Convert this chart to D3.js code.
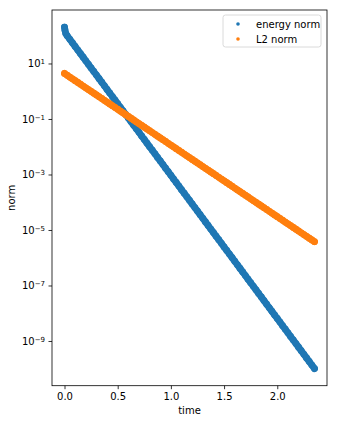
<!DOCTYPE html>
<html lang="en">
<head>
<meta charset="utf-8">
<title>norm vs time</title>
<script src="https://d3js.org/d3.v7.min.js"></script>
<style>
  body { margin: 0; background: #fff; }
  text { font-family: "DejaVu Sans", sans-serif; font-size: 10px; fill: #000; }
</style>
</head>
<body>
<script>
// sample times (shared)
var time = [0, 0.025, 0.05, 0.075, 0.1, 0.125, 0.15, 0.175, 0.2, 0.225, 0.25, 0.275, 0.3, 0.325, 0.35, 0.375,
  0.4, 0.425, 0.45, 0.475, 0.5, 0.525, 0.55, 0.575, 0.6, 0.625, 0.65, 0.675, 0.7, 0.725, 0.75, 0.775,
  0.8, 0.825, 0.85, 0.875, 0.9, 0.925, 0.95, 0.975, 1.0, 1.025, 1.05, 1.075, 1.1, 1.125, 1.15, 1.175,
  1.2, 1.225, 1.25, 1.275, 1.3, 1.325, 1.35, 1.375, 1.4, 1.425, 1.45, 1.475, 1.5, 1.525, 1.55, 1.575,
  1.6, 1.625, 1.65, 1.675, 1.7, 1.725, 1.75, 1.775, 1.8, 1.825, 1.85, 1.875, 1.9, 1.925, 1.95, 1.975,
  2.0, 2.025, 2.05, 2.075, 2.1, 2.125, 2.15, 2.175, 2.2, 2.225, 2.25, 2.275, 2.3, 2.325, 2.35];

// energy norm has a couple of extra points at the very start (small hook)
var energyTime = [0, 0.004, 0.012].concat(time.slice(1));
var energyNorm = [2.05e2, 1.62e2, 1.20e2,
  1.00e2, 7.45e1, 5.53e1, 4.11e1, 3.05e1, 2.27e1, 1.69e1, 1.25e1, 9.31, 6.92, 5.14, 3.82, 2.84, 2.11, 1.57, 1.16,
  8.65e-1, 6.43e-1, 4.78e-1, 3.55e-1, 2.64e-1, 1.96e-1, 1.46e-1, 1.08e-1,
  8.04e-2, 5.97e-2, 4.44e-2, 3.30e-2, 2.45e-2, 1.82e-2, 1.35e-2, 1.00e-2,
  7.46e-3, 5.55e-3, 4.12e-3, 3.06e-3, 2.28e-3, 1.69e-3, 1.26e-3,
  9.33e-4, 6.93e-4, 5.15e-4, 3.83e-4, 2.84e-4, 2.11e-4, 1.57e-4, 1.17e-4,
  8.67e-5, 6.44e-5, 4.79e-5, 3.56e-5, 2.64e-5, 1.96e-5, 1.46e-5, 1.08e-5,
  8.05e-6, 5.98e-6, 4.45e-6, 3.30e-6, 2.45e-6, 1.82e-6, 1.36e-6, 1.01e-6,
  7.48e-7, 5.56e-7, 4.13e-7, 3.07e-7, 2.28e-7, 1.69e-7, 1.26e-7,
  9.35e-8, 6.95e-8, 5.16e-8, 3.84e-8, 2.85e-8, 2.12e-8, 1.57e-8, 1.17e-8,
  8.69e-9, 6.46e-9, 4.80e-9, 3.56e-9, 2.65e-9, 1.97e-9, 1.46e-9, 1.09e-9,
  8.07e-10, 6.00e-10, 4.46e-10, 3.31e-10, 2.46e-10, 1.83e-10, 1.36e-10, 1.01e-10];

var l2Norm = [4.37, 3.76, 3.24, 2.80, 2.41, 2.08, 1.79, 1.54, 1.33, 1.15,
  9.89e-1, 8.52e-1, 7.35e-1, 6.33e-1, 5.46e-1, 4.71e-1, 4.06e-1, 3.50e-1, 3.01e-1, 2.60e-1,
  2.24e-1, 1.93e-1, 1.66e-1, 1.43e-1, 1.24e-1, 1.07e-1,
  9.18e-2, 7.91e-2, 6.82e-2, 5.88e-2, 5.07e-2, 4.37e-2, 3.77e-2, 3.25e-2, 2.80e-2, 2.41e-2,
  2.08e-2, 1.79e-2, 1.55e-2, 1.33e-2, 1.15e-2,
  9.90e-3, 8.53e-3, 7.35e-3, 6.34e-3, 5.46e-3, 4.71e-3, 4.06e-3, 3.50e-3, 3.02e-3, 2.60e-3,
  2.24e-3, 1.93e-3, 1.67e-3, 1.44e-3, 1.24e-3, 1.07e-3,
  9.19e-4, 7.93e-4, 6.83e-4, 5.89e-4, 5.08e-4, 4.38e-4, 3.77e-4, 3.25e-4, 2.80e-4, 2.42e-4,
  2.08e-4, 1.79e-4, 1.55e-4, 1.33e-4, 1.15e-4,
  9.91e-5, 8.54e-5, 7.36e-5, 6.35e-5, 5.47e-5, 4.72e-5, 4.06e-5, 3.50e-5, 3.02e-5, 2.60e-5,
  2.24e-5, 1.93e-5, 1.67e-5, 1.44e-5, 1.24e-5, 1.07e-5,
  9.20e-6, 7.93e-6, 6.84e-6, 5.89e-6, 5.08e-6, 4.38e-6, 3.78e-6];

var xTicks = [0, 0.5, 1.0, 1.5, 2.0];
var yTickExps = [1, -1, -3, -5, -7, -9];
var seriesNames = ["energy norm", "L2 norm"];
var seriesColors = ["#1f77b4", "#ff7f0e"];

var w = 337, h = 423;
var margin = {left: 52, top: 10, right: 10, bottom: 37.3};
var r = 3.4;

var svg = d3.select("body").append("svg")
    .attr("width", w)
    .attr("height", h);

// domains padded 5% like matplotlib (log space for y)
var tMax = d3.max(energyTime);
var xPad = tMax * 0.05;
var x = d3.scaleLinear()
    .domain([-xPad, tMax + xPad])
    .range([margin.left, w - margin.right]);

var allVals = energyNorm.concat(l2Norm);
var lmin = Math.log10(d3.min(allVals)), lmax = Math.log10(d3.max(allVals));
var lpad = (lmax - lmin) * 0.05;
var y = d3.scaleLog()
    .domain([Math.pow(10, lmin - lpad), Math.pow(10, lmax + lpad)])
    .range([h - margin.bottom, margin.top]);

var series = [
  energyTime.map(function(t, i) { return [t, energyNorm[i]]; }),
  time.map(function(t, i) { return [t, l2Norm[i]]; })
];

var trail = d3.line()
    .x(function(d) { return x(d[0]); })
    .y(function(d) { return y(d[1]); });

series.forEach(function(s, k) {
  var g = svg.append("g");
  // the points are so dense they merge into a band; the trail fills gaps between dots
  g.append("path")
    .attr("d", trail(s))
    .attr("fill", "none")
    .attr("stroke", seriesColors[k])
    .attr("stroke-width", 2 * r)
    .attr("stroke-linecap", "round")
    .attr("stroke-linejoin", "round");
  g.selectAll("circle")
    .data(s)
    .enter().append("circle")
      .attr("cx", function(d) { return x(d[0]); })
      .attr("cy", function(d) { return y(d[1]); })
      .attr("r", r)
      .attr("fill", seriesColors[k]);
});

// axes
var xAxis = svg.append("g")
    .attr("transform", "translate(0," + (h - margin.bottom) + ")")
    .call(d3.axisBottom(x).tickValues(xTicks).tickFormat(d3.format(".1f"))
      .tickSize(3.5).tickPadding(3.5));

var yAxis = svg.append("g")
    .attr("transform", "translate(" + margin.left + ",0)")
    .call(d3.axisLeft(y).tickValues(yTickExps.map(function(e) { return Math.pow(10, e); }))
      .tickFormat("").tickSize(3.5));

[xAxis, yAxis].forEach(function(g) {
  g.select(".domain").remove();
  g.selectAll("line").attr("stroke", "#000").attr("stroke-width", 0.8);
  g.selectAll("text").attr("fill", "#000")
    .style("font-family", "DejaVu Sans, sans-serif").style("font-size", "10px");
});

// y tick labels as 10^e with superscript
yAxis.selectAll(".tick").each(function(d) {
  var e = Math.round(Math.log10(d));
  var t = d3.select(this).append("text")
      .attr("x", -7)
      .attr("dy", "0.32em")
      .attr("text-anchor", "end");
  t.append("tspan").text("10");
  t.append("tspan")
    .attr("dy", "-0.45em")
    .style("font-size", "7px")
    .text(String(e).replace("-", "\u2212"));
});

// frame
svg.append("rect")
    .attr("x", margin.left)
    .attr("y", margin.top)
    .attr("width", w - margin.right - margin.left)
    .attr("height", h - margin.bottom - margin.top)
    .attr("fill", "none")
    .attr("stroke", "#000")
    .attr("stroke-width", 0.8);

// labels
svg.append("text")
    .attr("x", (margin.left + w - margin.right) / 2)
    .attr("y", 414)
    .attr("text-anchor", "middle")
    .text("time");

svg.append("text")
    .attr("transform", "translate(15," + ((margin.top + h - margin.bottom) / 2) + ") rotate(-90)")
    .attr("text-anchor", "middle")
    .text("norm");

// legend
var lg = svg.append("g").attr("transform", "translate(223,15)");
lg.append("rect")
    .attr("width", 98)
    .attr("height", 32)
    .attr("rx", 2.5)
    .attr("fill", "#fff")
    .attr("fill-opacity", 0.8)
    .attr("stroke", "#d0d0d0")
    .attr("stroke-width", 0.8);
seriesNames.forEach(function(name, i) {
  lg.append("circle")
    .attr("cx", 15)
    .attr("cy", 9 + i * 15)
    .attr("r", 1.8)
    .attr("fill", seriesColors[i]);
  lg.append("text")
    .attr("x", 33)
    .attr("y", 9 + i * 15)
    .attr("dy", "0.35em")
    .text(name);
});
</script>
</body>
</html>
